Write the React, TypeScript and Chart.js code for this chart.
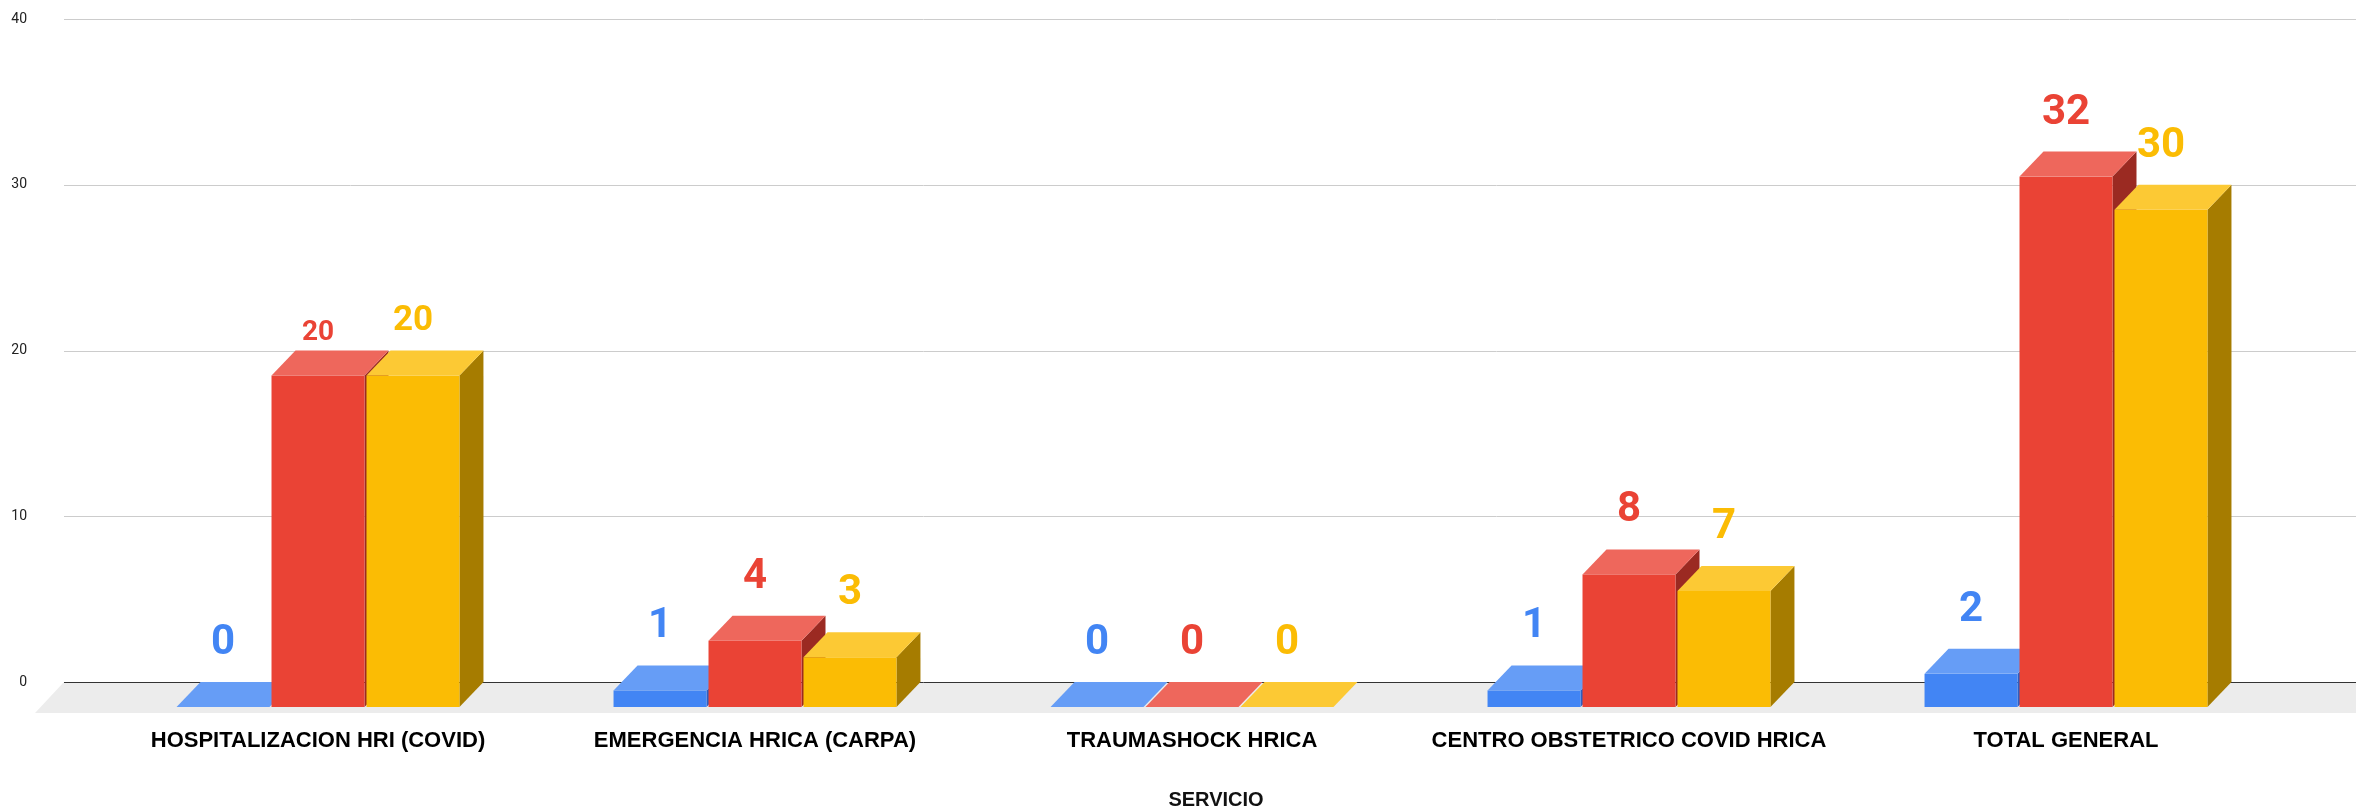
import React, { useEffect, useRef } from "react";
import { Chart, registerables } from "chart.js";

Chart.register(...registerables);

// ---- data ----
const categories = [
  "HOSPITALIZACION HRI (COVID)",
  "EMERGENCIA HRICA (CARPA)",
  "TRAUMASHOCK HRICA",
  "CENTRO OBSTETRICO COVID HRICA",
  "TOTAL GENERAL",
];
const seriesNames = ["Serie 1", "Serie 2", "Serie 3"];
const blueValues = [0, 1, 0, 1, 2];
const redValues = [20, 4, 0, 8, 32];
const yellowValues = [20, 3, 0, 7, 30];
const yTickValues = [0, 10, 20, 30, 40];
const axisTitle = "SERVICIO";

// ---- styles ----
const frontColors = ["#4285F4", "#EA4335", "#FBBC04"];
const topColors = ["#669DF6", "#EE675C", "#FCC934"];
const sideColors = ["#2F5FC0", "#9B2A22", "#A67C00"];
const DX = 24;
const DY = 25;
const LABEL_FONT = 42;
const LABEL_GAP = 28;
// per-label (dataset,index) tweaks seen in the reference
const labelOverrides: Record<string, { size: number; gap: number }> = {
  "1,0": { size: 28, gap: 11 },
  "2,0": { size: 35, gap: 21 },
};

const threeD = {
  id: "threeD",
  beforeDatasetsDraw(chart: any) {
    const ctx = chart.ctx;
    const y = chart.scales.y;
    const W = chart.width;
    const gridLeft = 64;
    ctx.save();
    // gridlines
    ctx.strokeStyle = "#CCCCCC";
    ctx.lineWidth = 1;
    yTickValues.forEach((v) => {
      if (v === 0) return;
      const py = Math.round(y.getPixelForValue(v)) + 0.5;
      ctx.beginPath();
      ctx.moveTo(gridLeft, py);
      ctx.lineTo(W, py);
      ctx.stroke();
    });
    // floor
    const zy = y.getPixelForValue(0);
    const fd = 31;
    ctx.fillStyle = "#ECECEC";
    ctx.beginPath();
    ctx.moveTo(gridLeft, zy);
    ctx.lineTo(W + 40, zy);
    ctx.lineTo(W + 40 - fd, zy + fd);
    ctx.lineTo(gridLeft - 29, zy + fd);
    ctx.closePath();
    ctx.fill();
    // zero line
    ctx.strokeStyle = "#333333";
    ctx.beginPath();
    ctx.moveTo(gridLeft, Math.round(zy) + 0.5);
    ctx.lineTo(W, Math.round(zy) + 0.5);
    ctx.stroke();

    // bars
    const metas = chart.data.datasets.map((_: any, i: number) => chart.getDatasetMeta(i));
    const n = chart.data.labels.length;
    for (let i = 0; i < n; i++) {
      metas.forEach((meta: any, d: number) => {
        const el = meta.data[i];
        if (!el) return;
        const p = el.getProps(["x", "y", "base", "width"], true);
        const bl = p.x - p.width / 2;
        const br = p.x + p.width / 2;
        const top = p.y;
        const bottom = p.base;
        if (bottom - top > 0.5) {
          // side face
          ctx.fillStyle = sideColors[d];
          ctx.beginPath();
          ctx.moveTo(br - DX, top + DY);
          ctx.lineTo(br, top);
          ctx.lineTo(br, bottom);
          ctx.lineTo(br - DX, bottom + DY);
          ctx.closePath();
          ctx.fill();
          // front face
          ctx.fillStyle = frontColors[d];
          ctx.fillRect(bl - DX, top + DY, p.width, bottom - top);
        }
        // top face
        ctx.fillStyle = topColors[d];
        ctx.beginPath();
        ctx.moveTo(bl - DX, top + DY);
        ctx.lineTo(br - DX, top + DY);
        ctx.lineTo(br, top);
        ctx.lineTo(bl, top);
        ctx.closePath();
        ctx.fill();
      });
    }
    // labels
    ctx.textAlign = "center";
    ctx.textBaseline = "alphabetic";
    metas.forEach((meta: any, d: number) => {
      const values = chart.data.datasets[d].data;
      meta.data.forEach((el: any, i: number) => {
        const p = el.getProps(["x", "y"], true);
        const ov = labelOverrides[d + "," + i];
        const size = ov ? ov.size : LABEL_FONT;
        const gap = ov ? ov.gap : LABEL_GAP;
        ctx.font = "bold " + size + "px Roboto";
        ctx.fillStyle = frontColors[d];
        ctx.fillText(String(values[i]), p.x - DX, p.y - gap);
      });
    });
    ctx.restore();
    return false;
  },
};

export default function App() {
  const ref = useRef<HTMLCanvasElement | null>(null);
  useEffect(() => {
    if (!ref.current) return;
    const chart = new Chart(ref.current, {
      type: "bar",
      data: {
        labels: categories,
        datasets: [
          { label: seriesNames[0], data: blueValues, backgroundColor: frontColors[0] },
          { label: seriesNames[1], data: redValues, backgroundColor: frontColors[1] },
          { label: seriesNames[2], data: yellowValues, backgroundColor: frontColors[2] },
        ],
      },
      options: {
        responsive: false,
        animation: false,
        events: [],
        layout: { padding: { top: 19, right: 47.5, bottom: 0, left: 0 } },
        datasets: {
          bar: { categoryPercentage: 0.652, barPercentage: 0.979 },
        } as any,
        plugins: {
          legend: { display: false },
          tooltip: { enabled: false },
          title: { display: false },
        },
        scales: {
          x: {
            grid: { display: false, drawTicks: false },
            border: { display: false },
            ticks: {
              color: "#000000",
              font: { family: "'Liberation Sans', Arial, sans-serif", size: 22, weight: "bold" },
              padding: 46,
              labelOffset: -DX,
              maxRotation: 0,
              autoSkip: false,
            },
            title: {
              display: true,
              text: axisTitle,
              color: "#111111",
              font: { family: "'Liberation Sans', Arial, sans-serif", size: 20, weight: "bold", lineHeight: 1 },
              padding: { top: 0, bottom: 0 },
            },
            afterFit: (s: any) => {
              s.height = 128;
              s.paddingLeft = 0;
              s.paddingRight = 0;
            },
          },
          y: {
            min: 0,
            max: 40,
            grid: { display: false, drawTicks: false },
            border: { display: false },
            ticks: {
              stepSize: 10,
              color: "#222222",
              font: { family: "Roboto, sans-serif", size: 14 },
              padding: 96.5,
            },
            afterBuildTicks: (s: any) => {
              s.ticks = yTickValues.map((v) => ({ value: v }));
            },
            afterFit: (s: any) => {
              s.width = 123.5;
              s.paddingTop = 0;
              s.paddingBottom = 0;
            },
          },
        },
      },
      plugins: [threeD],
    } as any);
    return () => chart.destroy();
  }, []);
  return (
    <canvas
      ref={ref}
      width={2356}
      height={810}
      style={{ position: "absolute", left: 0, top: 0, display: "block", width: 2356, height: 810 }}
    />
  );
}
